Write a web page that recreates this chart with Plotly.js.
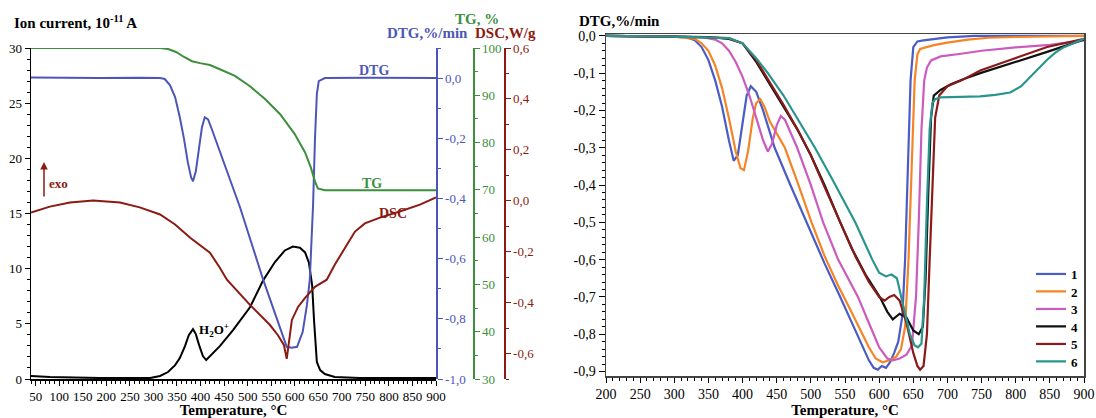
<!DOCTYPE html>
<html><head><meta charset="utf-8">
<script src="https://cdn.plot.ly/plotly-3.0.1.min.js"></script>
<style>html,body{margin:0;padding:0;background:#fff}#chart{width:1096px;height:418px}</style>
</head><body><div id="chart"></div>
<script>
// ---------- Left panel data ----------
const ionT = [40,80,186,293,314,331,346,356,367,375,384,390,397,405,412,420,441,469,505,533,558,579,596,611,622,630,637,641,645,647,654,664,685,738,900];
const ionI = [0.27,0.18,0.09,0.09,0.27,0.63,1.26,1.9,2.98,3.97,4.52,4.07,3.07,2.08,1.72,2.08,2.98,4.43,6.5,8.94,10.6,11.65,12.0,11.9,11.47,10.57,8.5,5.33,2.62,1.54,0.81,0.45,0.18,0.09,0.09];

const dtgT = [40,100,186,271,314,324,335,346,356,365,373,380,384,390,397,403,409,416,424,441,484,533,569,583,594,605,617,626,632,639,643,647,651,664,760,900];
const dtgV = [0.002,0.001,0,0.001,0,-0.003,-0.023,-0.063,-0.13,-0.203,-0.28,-0.33,-0.343,-0.31,-0.237,-0.163,-0.13,-0.137,-0.17,-0.243,-0.43,-0.67,-0.827,-0.893,-0.896,-0.893,-0.843,-0.753,-0.67,-0.42,-0.203,-0.053,-0.01,0,0.001,0];

const tgT = [40,314,331,348,365,382,399,420,441,473,505,537,569,600,622,634,643,649,664,900];
const tgV = [100,100,99.8,99.15,98.1,97.2,96.8,96.4,95.5,94.1,91.9,89.2,86.0,81.8,77.9,74.8,71.8,70.3,69.9,69.9];

const dscT = [40,80,123,172,229,271,314,346,378,399,420,441,456,505,547,564,577,583,590,594,607,622,643,668,685,707,728,749,781,823,866,900];
const dscV = [-0.046,-0.023,-0.007,0.001,-0.007,-0.026,-0.054,-0.093,-0.145,-0.176,-0.204,-0.263,-0.31,-0.409,-0.487,-0.527,-0.566,-0.621,-0.527,-0.468,-0.417,-0.381,-0.338,-0.31,-0.251,-0.184,-0.121,-0.089,-0.066,-0.042,-0.015,0.013];

// ---------- Right panel data ----------
const t1 = [200,250,300,320,330,340,350,360,370,380,387,393,400,406,412,420,430,447,470,494,520,543,560,575,585,592,598,604,610,616,622,628,634,638,642,646,650,656,665,680,700,740,800,900];
const d1 = [0,0,-0.002,-0.005,-0.012,-0.03,-0.065,-0.12,-0.19,-0.28,-0.335,-0.32,-0.24,-0.16,-0.135,-0.15,-0.2,-0.3,-0.4,-0.5,-0.61,-0.7,-0.77,-0.83,-0.87,-0.89,-0.895,-0.885,-0.89,-0.875,-0.85,-0.82,-0.75,-0.6,-0.35,-0.12,-0.03,-0.015,-0.012,-0.008,-0.004,0,0,0];
const t2 = [200,300,330,340,350,360,370,380,390,397,402,408,415,420,426,432,440,462,480,501,520,540,554,570,585,595,605,615,625,632,638,643,648,652,656,660,680,700,730,760,800,900];
const d2 = [0,-0.002,-0.008,-0.02,-0.04,-0.08,-0.14,-0.22,-0.31,-0.355,-0.36,-0.31,-0.22,-0.18,-0.17,-0.19,-0.23,-0.3,-0.39,-0.5,-0.59,-0.67,-0.72,-0.78,-0.835,-0.865,-0.875,-0.87,-0.86,-0.84,-0.78,-0.6,-0.35,-0.12,-0.05,-0.035,-0.025,-0.018,-0.01,-0.005,-0.003,0];
const t3 = [200,340,360,370,380,390,400,410,420,430,437,443,450,456,462,470,480,500,518,540,569,585,600,612,620,630,640,648,654,658,662,666,670,676,690,720,750,800,850,900];
const d3 = [0,-0.003,-0.01,-0.02,-0.04,-0.07,-0.11,-0.16,-0.22,-0.28,-0.31,-0.29,-0.24,-0.215,-0.225,-0.26,-0.3,-0.4,-0.5,-0.6,-0.7,-0.77,-0.835,-0.865,-0.87,-0.865,-0.855,-0.83,-0.7,-0.5,-0.25,-0.12,-0.085,-0.066,-0.055,-0.048,-0.04,-0.031,-0.024,-0.012];
const t4 = [200,300,350,380,400,420,440,460,480,500,520,543,560,580,601,612,620,630,640,650,658,664,668,672,676,680,690,705,725,748,796,846,900];
const d4 = [0,-0.002,-0.003,-0.008,-0.02,-0.07,-0.13,-0.19,-0.25,-0.32,-0.4,-0.5,-0.57,-0.64,-0.7,-0.74,-0.76,-0.745,-0.755,-0.79,-0.8,-0.78,-0.65,-0.42,-0.22,-0.16,-0.145,-0.13,-0.115,-0.1,-0.073,-0.043,-0.01];
const t5 = [200,300,380,400,420,440,460,480,500,520,545,565,585,600,608,615,622,630,640,650,656,660,665,670,674,678,682,688,700,720,748,796,846,900];
const d5 = [0,-0.002,-0.006,-0.02,-0.065,-0.125,-0.185,-0.25,-0.32,-0.405,-0.51,-0.59,-0.66,-0.7,-0.71,-0.7,-0.695,-0.71,-0.77,-0.85,-0.885,-0.895,-0.885,-0.8,-0.6,-0.38,-0.22,-0.16,-0.135,-0.12,-0.093,-0.062,-0.03,-0.008];
const t6 = [200,300,380,400,420,437,460,480,506,530,565,590,600,610,618,626,635,645,652,657,662,666,670,674,678,682,690,720,748,770,792,808,821,834,846,858,869,882,900];
const d6 = [0,-0.002,-0.006,-0.02,-0.06,-0.1,-0.16,-0.22,-0.3,-0.38,-0.5,-0.6,-0.635,-0.645,-0.64,-0.65,-0.72,-0.8,-0.83,-0.835,-0.825,-0.7,-0.45,-0.25,-0.18,-0.17,-0.165,-0.163,-0.162,-0.158,-0.152,-0.135,-0.111,-0.088,-0.064,-0.045,-0.032,-0.022,-0.008];
const seriesNames = ['1','2','3','4','5','6'];
const seriesColors = ['#4a5cc5','#f58426','#cc5bbf','#111111','#8b1a1a','#2a948f'];

// ---------- Tick labels ----------
const dtgLTickVals = [-1,-0.8,-0.6,-0.4,-0.2,0];
const dtgLTickText = ['-1,0','-0,8','-0,6','-0,4','-0,2','0,0'];
const dscTickVals = [-0.6,-0.4,-0.2,0,0.2,0.4,0.6];
const dscTickText = ['-0,6','-0,4','-0,2','0,0','0,2','0,4','0,6'];
const dtgRTickVals = [-0.9,-0.8,-0.7,-0.6,-0.5,-0.4,-0.3,-0.2,-0.1,0];
const dtgRTickText = ['-0,9','-0,8','-0,7','-0,6','-0,5','-0,4','-0,3','-0,2','-0,1','0,0'];

const W = 1096, H = 418;
const px = v => v / W, py = v => 1 - v / H;
const BLUE = '#4b56b8', GREEN = '#3c8f3c', RED = '#8b1a12';
const FONT = '"Liberation Serif", "Times New Roman", serif';

const traces = [
  {x: ionT, y: ionI, xaxis: 'x', yaxis: 'y', mode: 'lines', line: {color: '#000', width: 2}, showlegend: false},
  {x: dtgT, y: dtgV, xaxis: 'x', yaxis: 'y2', mode: 'lines', line: {color: BLUE, width: 2}, showlegend: false},
  {x: tgT, y: tgV, xaxis: 'x', yaxis: 'y3', mode: 'lines', line: {color: GREEN, width: 2}, showlegend: false},
  {x: dscT, y: dscV, xaxis: 'x', yaxis: 'y4', mode: 'lines', line: {color: RED, width: 2}, showlegend: false}
];
const rT = [t1,t2,t3,t4,t5,t6], rD = [d1,d2,d3,d4,d5,d6];
const legendKeys = ['legend','legend2','legend3','legend4','legend5','legend6'];
const legendTops = [259, 276.5, 294, 311.5, 329, 346.5];
for (let i = 0; i < 6; i++) {
  traces.push({x: rT[i], y: rD[i], xaxis: 'x2', yaxis: 'y5', mode: 'lines', name: '<b>' + seriesNames[i] + '</b>',
    legend: legendKeys[i], line: {color: seriesColors[i], width: 2.2}});
}

const sideAxis = (color, pos, range, extra) => Object.assign({
  overlaying: 'y', anchor: 'free', position: pos, side: 'right', range: range,
  showline: true, linecolor: color, linewidth: 1.5, ticks: 'outside', ticklen: 5, tickwidth: 1, tickcolor: color,
  tickfont: {size: 13, color: color, family: FONT}, showgrid: false, zeroline: false
}, extra);

const layout = {
  width: W, height: H, margin: {l: 0, r: 0, t: 0, b: 0},
  paper_bgcolor: '#fff', plot_bgcolor: 'rgba(0,0,0,0)',
  font: {family: FONT, size: 13, color: '#000'},
  xaxis: {domain: [px(31), px(436)], range: [40, 900], anchor: 'y', tickmode: 'linear', tick0: 0, dtick: 50,
    showline: true, linecolor: '#000', linewidth: 1.5, ticks: 'outside', ticklen: 5, tickcolor: '#000',
    minor: {tickmode: 'linear', tick0: 0, dtick: 10, ticks: 'outside', ticklen: 3, tickcolor: '#000'},
    showgrid: false, zeroline: false, tickfont: {size: 13},
    title: {text: '<b>Temperature, °C</b>', font: {size: 15}, standoff: 3}},
  yaxis: {domain: [py(379), py(48)], range: [0, 30], anchor: 'x', tickmode: 'linear', tick0: 0, dtick: 5,
    showline: true, linecolor: '#000', linewidth: 1.5, ticks: 'outside', ticklen: 5, tickcolor: '#000',
    minor: {tickmode: 'linear', tick0: 0, dtick: 1, ticks: 'outside', ticklen: 3, tickcolor: '#000'},
    showgrid: false, zeroline: false, tickfont: {size: 13}},
  yaxis2: sideAxis(BLUE, px(436), [-1, 0.1], {tickmode: 'array', tickvals: dtgLTickVals, ticktext: dtgLTickText,
    minor: {tickmode: 'linear', tick0: 0, dtick: 0.1, ticks: 'outside', ticklen: 3, tickcolor: BLUE}}),
  yaxis3: sideAxis(GREEN, px(473), [30, 100], {tickmode: 'linear', tick0: 0, dtick: 10,
    minor: {tickmode: 'linear', tick0: 0, dtick: 5, ticks: 'outside', ticklen: 3, tickcolor: GREEN}}),
  yaxis4: sideAxis(RED, px(504), [-0.7, 0.6], {tickmode: 'array', tickvals: dscTickVals, ticktext: dscTickText,
    minor: {tickmode: 'linear', tick0: 0, dtick: 0.1, ticks: 'outside', ticklen: 3, tickcolor: RED}}),
  xaxis2: {domain: [px(606), px(1084)], range: [200, 900], anchor: 'y5', tickmode: 'linear', tick0: 0, dtick: 50,
    showline: true, mirror: true, linecolor: '#444', linewidth: 1.5, ticks: 'outside', ticklen: 5, tickcolor: '#000',
    minor: {tickmode: 'linear', tick0: 0, dtick: 10, ticks: 'outside', ticklen: 3, tickcolor: '#000'},
    showgrid: false, zeroline: false, tickfont: {size: 14},
    title: {text: '<b>Temperature, °C</b>', font: {size: 15}, standoff: 3}},
  yaxis5: {domain: [py(376), py(34)], range: [-0.912, 0.005], anchor: 'x2', tickmode: 'array',
    tickvals: dtgRTickVals, ticktext: dtgRTickText,
    showline: true, mirror: true, linecolor: '#444', linewidth: 1.5, ticks: 'outside', ticklen: 6, tickcolor: '#000',
    minor: {tickmode: 'linear', tick0: 0, dtick: 0.02, ticks: 'outside', ticklen: 3, tickcolor: '#000'},
    showgrid: false, zeroline: false, tickfont: {size: 14}},
  showlegend: true,
  annotations: [
    {xref: 'paper', yref: 'paper', x: px(12), y: py(22), xanchor: 'left', yanchor: 'middle', showarrow: false,
      text: '<b>Ion current, 10<sup>-11</sup> A</b>', font: {size: 15}},
    {xref: 'paper', yref: 'paper', x: px(477), y: py(19), xanchor: 'center', yanchor: 'middle', showarrow: false,
      text: '<b>TG, %</b>', font: {size: 15, color: GREEN}},
    {xref: 'paper', yref: 'paper', x: px(470), y: py(33), xanchor: 'right', yanchor: 'middle', showarrow: false,
      text: '<b>DTG,%/min</b>', font: {size: 15, color: BLUE}},
    {xref: 'paper', yref: 'paper', x: px(473), y: py(33), xanchor: 'left', yanchor: 'middle', showarrow: false,
      text: '<b>DSC,W/g</b>', font: {size: 15, color: RED}},
    {xref: 'paper', yref: 'paper', x: px(374), y: py(71), xanchor: 'center', yanchor: 'middle', showarrow: false,
      text: '<b>DTG</b>', font: {size: 14, color: BLUE}},
    {xref: 'paper', yref: 'paper', x: px(372), y: py(183), xanchor: 'center', yanchor: 'middle', showarrow: false,
      text: '<b>TG</b>', font: {size: 14, color: GREEN}},
    {xref: 'paper', yref: 'paper', x: px(393), y: py(213), xanchor: 'center', yanchor: 'middle', showarrow: false,
      text: '<b>DSC</b>', font: {size: 14, color: RED}},
    {xref: 'paper', yref: 'paper', x: px(214), y: py(330), xanchor: 'center', yanchor: 'middle', showarrow: false,
      text: '<b>H<sub>2</sub>O<sup>+</sup></b>', font: {size: 13}},
    {xref: 'paper', yref: 'paper', x: px(47), y: py(183), xanchor: 'left', yanchor: 'middle', showarrow: false,
      text: '<b>exo</b>', font: {size: 13, color: RED}},
    {xref: 'paper', yref: 'paper', x: px(44), y: py(162), text: '', showarrow: true, arrowhead: 2, arrowsize: 1,
      arrowwidth: 1.5, arrowcolor: RED, ax: 0, ay: 36},
    {xref: 'paper', yref: 'paper', x: px(619), y: py(21), xanchor: 'center', yanchor: 'middle', showarrow: false,
      text: '<b>DTG,%/min</b>', font: {size: 15}}
  ]
};
for (let i = 0; i < 6; i++) {
  layout[legendKeys[i]] = {x: px(1031), y: py(legendTops[i]), xanchor: 'left', yanchor: 'top',
    bgcolor: 'rgba(0,0,0,0)', font: {size: 13, family: FONT}, itemwidth: 30};
}

Plotly.newPlot('chart', traces, layout, {displayModeBar: false, staticPlot: true});
</script></body></html>
